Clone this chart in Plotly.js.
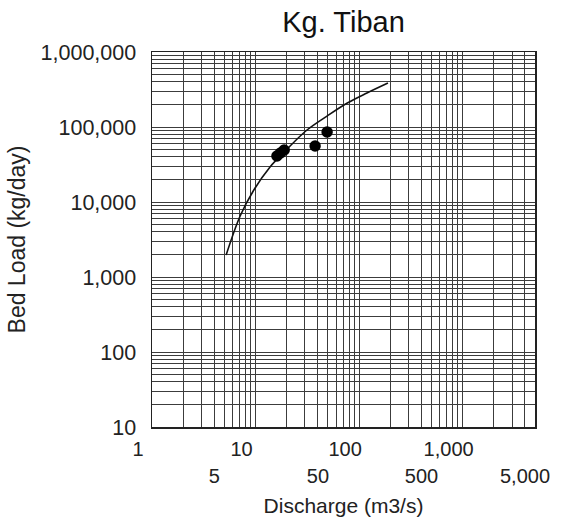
<!DOCTYPE html>
<html>
<head>
<meta charset="utf-8">
<script src="https://cdn.plot.ly/plotly-3.0.1.min.js"></script>
<style>html,body{margin:0;padding:0;background:#fff;}#chart{width:567px;height:526px;}</style>
</head>
<body>
<div id="chart"></div>
<script>
// Rating curve (discharge m3/s vs bed load kg/day)
var curveQ    = [5.2, 7.1, 9.5, 13.8, 20.2, 31.4, 49, 77, 119, 190];
var curveLoad = [1960, 6500, 14000, 29300, 50900, 91200, 140000, 209000, 284000, 386000];
// Observed samples
var obsQ    = [16.1, 17.4, 18.9, 37.6, 49.1];
var obsLoad = [41000, 45000, 49300, 55800, 85800];
// Tick labels
var xTicksRow1 = [1, 10, 100, 1000];
var xTextRow1  = ['1', '10', '100', '1,000'];
var xTicksRow2 = [5, 50, 500, 5000];
var xTextRow2  = ['5', '50', '500', '5,000'];
var yTicks = [10, 100, 1000, 10000, 100000, 1000000];
var yText  = ['10', '100', '1,000', '10,000', '100,000', '1,000,000'];

var FONT = 'Liberation Sans, Arial, sans-serif';
var GRID = '#3c3c3c';
var xRange = [0, Math.log10(5000)];
var yRange = [1, 6];

var traces = [
  {x: curveQ, y: curveLoad, mode: 'lines', type: 'scatter',
   line: {color: '#111', width: 1.6, shape: 'spline', smoothing: 1},
   xaxis: 'x', yaxis: 'y', hoverinfo: 'none'},
  {x: obsQ, y: obsLoad, mode: 'markers', type: 'scatter',
   marker: {color: '#000', size: 11.5},
   xaxis: 'x', yaxis: 'y', hoverinfo: 'none'},
  {x: [1], y: [10], mode: 'markers', marker: {opacity: 0}, xaxis: 'x2', yaxis: 'y', hoverinfo: 'none'}
];

var layout = {
  width: 567, height: 526,
  margin: {l: 152, r: 32, t: 52, b: 99},
  paper_bgcolor: '#fff', plot_bgcolor: '#fff',
  showlegend: false,
  font: {family: FONT, color: '#222', size: 20},
  title: {text: 'Kg. Tiban', x: 0.5, xref: 'paper', y: 0.958, yanchor: 'middle',
          font: {family: FONT, size: 29, color: '#111'}},
  xaxis: {
    type: 'log', range: xRange,
    tickvals: xTicksRow1, ticktext: xTextRow1, ticks: '',
    showgrid: true, gridcolor: GRID, gridwidth: 1,
    minor: {dtick: 'D1', showgrid: true, gridcolor: GRID, gridwidth: 1, ticks: ''},
    showline: true, linecolor: '#222', linewidth: 1.5, mirror: true,
    zeroline: false, tickfont: {size: 20, color: '#222'},
    ticklabelshift: -14, ticklabelstandoff: 3
  },
  xaxis2: {
    type: 'log', range: xRange, overlaying: 'x', side: 'bottom', anchor: 'y',
    tickvals: xTicksRow2, ticktext: xTextRow2, ticks: '',
    showgrid: false, showline: false, zeroline: false,
    ticklabelstandoff: 35, ticklabelshift: -10,
    tickfont: {size: 20, color: '#222'},
    title: {text: 'Discharge (m3/s)', standoff: 12, font: {size: 21, color: '#222'}}
  },
  yaxis: {
    type: 'log', range: yRange,
    tickvals: yTicks, ticktext: yText, ticks: '',
    showgrid: true, gridcolor: GRID, gridwidth: 1,
    minor: {dtick: 'D1', showgrid: true, gridcolor: GRID, gridwidth: 1, ticks: ''},
    showline: true, linecolor: '#222', linewidth: 1.5, mirror: true,
    zeroline: false, tickfont: {size: 21.5, color: '#222'}, ticklabelstandoff: 10,
    title: {text: 'Bed Load (kg/day)', standoff: 8, font: {size: 23, color: '#222'}}
  }
};

Plotly.newPlot('chart', traces, layout, {staticPlot: true, displayModeBar: false});
</script>
</body>
</html>
